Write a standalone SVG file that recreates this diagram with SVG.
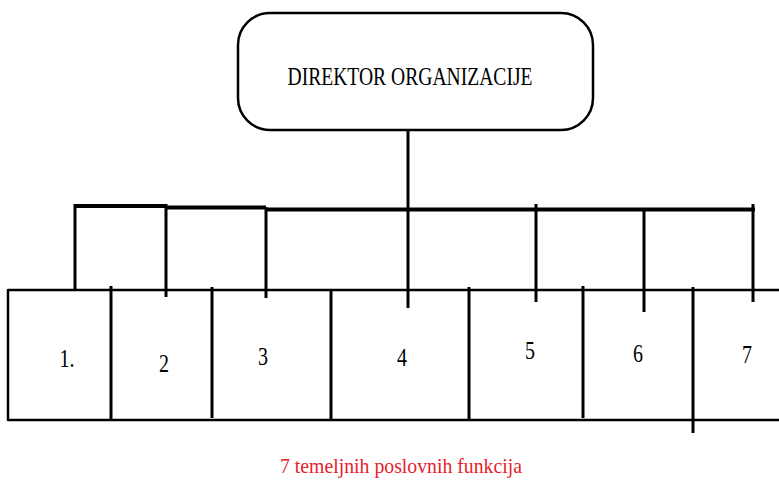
<svg xmlns="http://www.w3.org/2000/svg" width="779" height="481" viewBox="0 0 779 481">
<style>
.t{font-family:"Liberation Serif","Times New Roman",serif;fill:#000}
.c{stroke:#000;fill:none;stroke-linecap:butt}
.bus{stroke-width:4}
.v{stroke-width:3}
.b{stroke:#000;stroke-width:2.5;fill:none}
.d{stroke:#000;stroke-width:3}
</style>
<rect width="779" height="481" fill="#fff"/>
<g id="director">
<rect x="238" y="13" width="355" height="117" rx="32" ry="32" fill="#fff" stroke="#000" stroke-width="2.5"/>
<text class="t" x="410" y="85" font-size="25" text-anchor="middle" textLength="245" lengthAdjust="spacingAndGlyphs">DIREKTOR ORGANIZACIJE</text>
</g>
<g id="connectors">
<line class="c v" x1="408" y1="131" x2="408" y2="308"/>
<polyline class="c bus" points="75,206 167,206"/>
<polyline class="c bus" points="166,207.5 266,207.5"/>
<polyline class="c bus" points="265,209.5 755,209.5"/>
<line class="c v" x1="75" y1="204" x2="75" y2="290"/>
<line class="c v" x1="166" y1="204" x2="166" y2="297"/>
<line class="c v" x1="266" y1="207" x2="266" y2="298"/>
<line class="c v" x1="536" y1="204" x2="536" y2="302"/>
<line class="c v" x1="644" y1="208" x2="644" y2="312"/>
<line class="c v" x1="753" y1="204" x2="753" y2="302"/>
</g>
<g id="functions">
<line class="b" x1="8" y1="290" x2="779" y2="290"/>
<line class="b" x1="8" y1="420" x2="779" y2="420"/>
<line class="b" x1="8" y1="289" x2="8" y2="421"/>
<line class="d" x1="111" y1="286" x2="111" y2="420"/>
<line class="d" x1="212" y1="287" x2="212" y2="418"/>
<line class="d" x1="331" y1="289" x2="331" y2="420"/>
<line class="d" x1="469" y1="287" x2="469" y2="420"/>
<line class="d" x1="583" y1="286" x2="583" y2="418"/>
<line class="d" x1="693" y1="287" x2="693" y2="433"/>
</g>
<g id="f1"><text class="t" x="67" y="367" font-size="25" text-anchor="middle" textLength="15" lengthAdjust="spacingAndGlyphs">1.</text></g>
<g id="f2"><text class="t" x="164" y="372" font-size="25" text-anchor="middle" textLength="10" lengthAdjust="spacingAndGlyphs">2</text></g>
<g id="f3"><text class="t" x="263" y="365" font-size="25" text-anchor="middle" textLength="10" lengthAdjust="spacingAndGlyphs">3</text></g>
<g id="f4"><text class="t" x="402" y="366" font-size="25" text-anchor="middle" textLength="10" lengthAdjust="spacingAndGlyphs">4</text></g>
<g id="f5"><text class="t" x="530" y="359" font-size="25" text-anchor="middle" textLength="10" lengthAdjust="spacingAndGlyphs">5</text></g>
<g id="f6"><text class="t" x="638" y="362" font-size="25" text-anchor="middle" textLength="10" lengthAdjust="spacingAndGlyphs">6</text></g>
<g id="f7"><text class="t" x="747" y="363" font-size="25" text-anchor="middle" textLength="10" lengthAdjust="spacingAndGlyphs">7</text></g>
<text x="401" y="473" font-family="Liberation Serif, Times New Roman, serif" font-size="22" fill="#e8202a" text-anchor="middle" textLength="242" lengthAdjust="spacingAndGlyphs">7 temeljnih poslovnih funkcija</text>
</svg>
